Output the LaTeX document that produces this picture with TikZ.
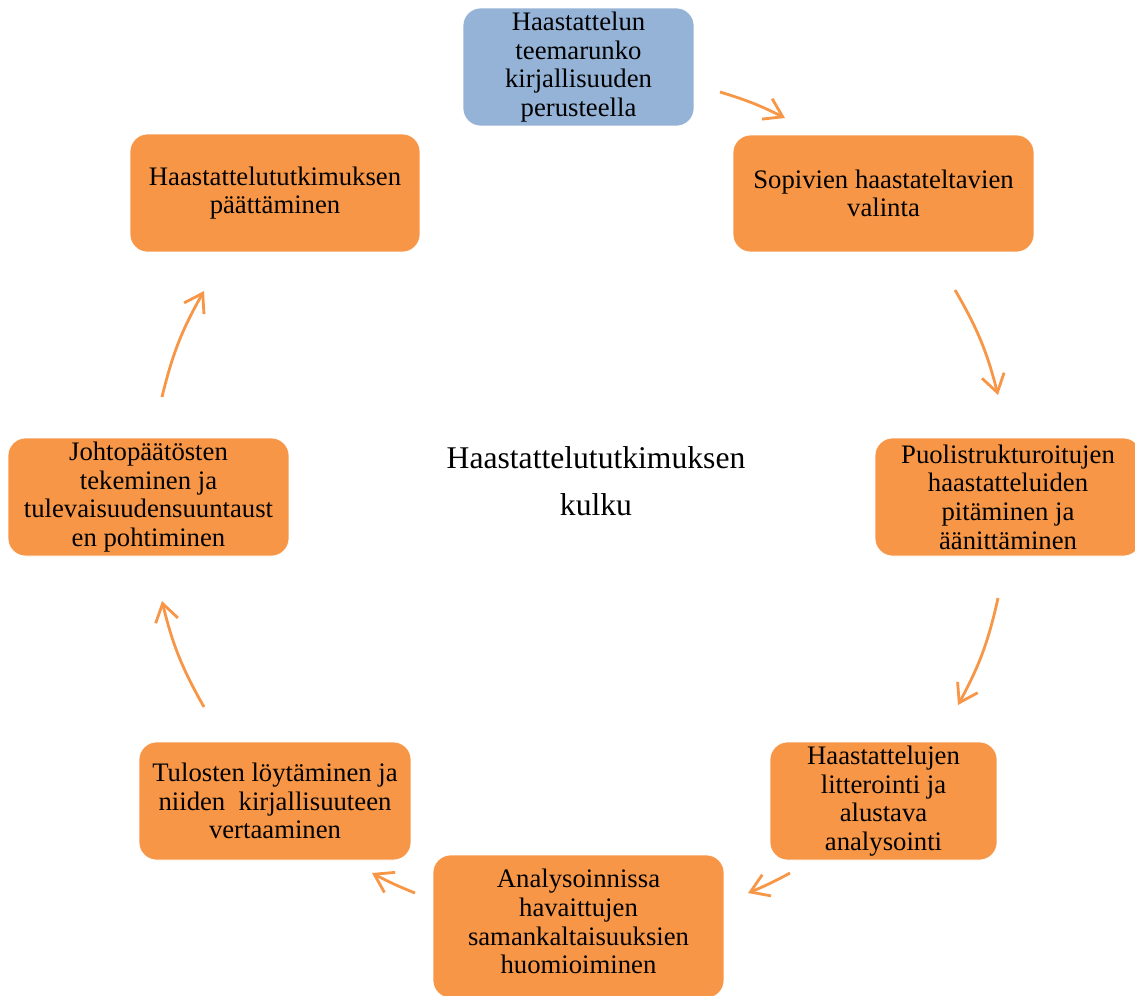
\documentclass[tikz,border=0pt]{standalone}
\usepackage{fontspec}
\setmainfont{Liberation Serif}
\usetikzlibrary{arrows.meta}
\definecolor{stageorange}{HTML}{F79646}
\definecolor{stageblue}{HTML}{95B3D7}
\begin{document}
\begin{tikzpicture}[x=0.02cm,y=0.02cm,
		stage/.style={draw=white,fill=stageorange,rounded corners=10pt,align=center,inner sep=2pt,font=\fontsize{15.2}{16.3}\selectfont},
		cyc/.style={draw=stageorange,line width=1.6pt,-{Straight Barb[length=10pt,width=13pt]}}]
		\clip (0,0) rectangle (1135,-995);

		\node[stage,fill=stageblue,minimum width=4.62cm,minimum height=2.36cm] (teema) at (578.5,-67) {Haastattelun\\teemarunko\\kirjallisuuden\\perusteella};
		\node[stage,minimum width=6.02cm,minimum height=2.34cm] (valinta) at (883.5,-193.5) {Sopivien haastateltavien\\valinta};
		\node[stage,minimum width=5.32cm,minimum height=2.36cm] (haastattelu) at (1008,-497) {Puolistrukturoitujen\\haastatteluiden\\pitäminen ja\\äänittäminen};
		\node[stage,minimum width=4.54cm,minimum height=2.36cm] (litterointi) at (883.5,-801) {Haastattelujen\\litterointi ja\\alustava\\analysointi};
		\node[stage,minimum width=5.82cm,minimum height=2.86cm] (analyysi) at (578.5,-926.5) {Analysoinnissa\\havaittujen\\samankaltaisuuksien\\huomioiminen\\[-10.5pt]};
		\node[stage,minimum width=5.44cm,minimum height=2.36cm] (tulokset) at (275,-801) {Tulosten löytäminen ja\\niiden\ \ kirjallisuuteen\\vertaaminen};
		\node[stage,minimum width=5.62cm,minimum height=2.36cm] (johtopaatokset) at (148.5,-497) {Johtopäätösten\\tekeminen ja\\tulevaisuudensuuntaust\\en pohtiminen};
		\node[stage,minimum width=5.8cm,minimum height=2.36cm] (paattaminen) at (275,-193) {Haastattelututkimuksen\\päättäminen};

		\node[align=center,font=\fontsize{18}{26.6}\selectfont] (kulku) at (596,-481) {Haastattelututkimuksen\\kulku};

		\coordinate (a1) at (720,-92);
		\coordinate (b1) at (785,-118);
		\coordinate (a2) at (955,-290);
		\coordinate (b2) at (998,-395);
		\coordinate (a3) at (998,-598);
		\coordinate (b3) at (958,-705);
		\coordinate (a4) at (790,-873);
		\coordinate (b4) at (748,-893);
		\coordinate (a5) at (415,-893);
		\coordinate (b5) at (372,-873);
		\coordinate (a6) at (204,-707);
		\coordinate (b6) at (162,-601);
		\coordinate (a7) at (162,-397);
		\coordinate (b7) at (204,-291);

		\draw[cyc] (a1) to[bend left=5] (b1);
		\draw[cyc] (a2) to[bend left=8] (b2);
		\draw[cyc] (a3) to[bend left=8] (b3);
		\draw[cyc] (a4) to[bend left=3] (b4);
		\draw[cyc] (a5) to[bend left=3] (b5);
		\draw[cyc] (a6) to[bend left=8] (b6);
		\draw[cyc] (a7) to[bend left=8] (b7);
	\end{tikzpicture}
\end{document}
